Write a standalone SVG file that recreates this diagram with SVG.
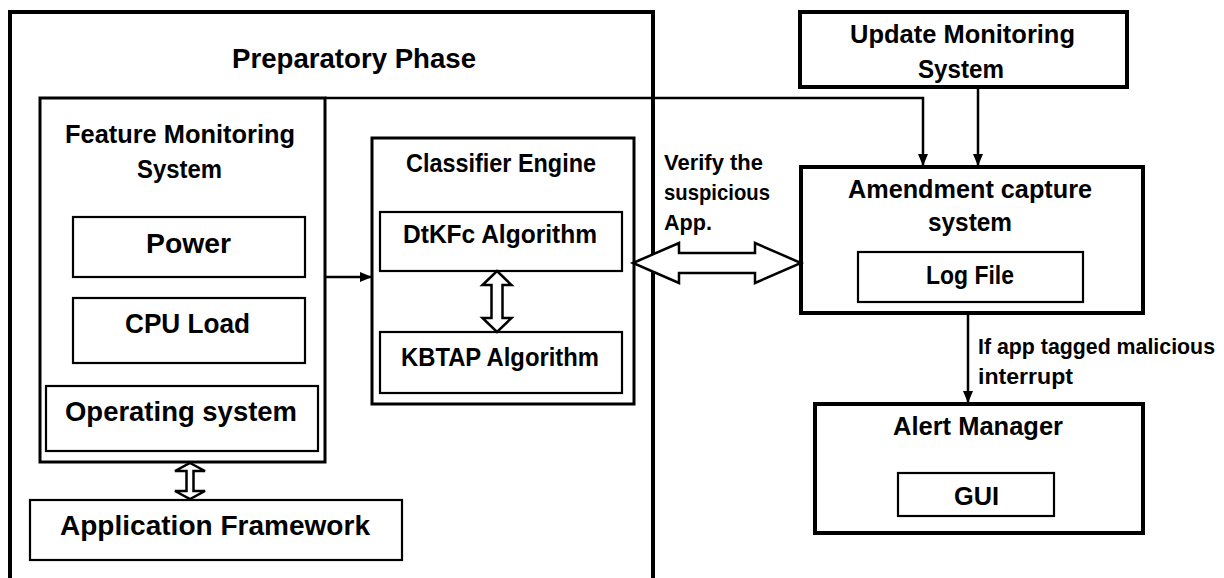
<svg xmlns="http://www.w3.org/2000/svg" width="1224" height="578" viewBox="0 0 1224 578">
<style>
  text { font-family: "Liberation Sans", Arial, sans-serif; font-weight: bold; fill: #000; }
  .b4 { fill: #fff; stroke: #000; stroke-width: 4; }
  .b3 { fill: #fff; stroke: #000; stroke-width: 3; }
  .b2 { fill: #fff; stroke: #000; stroke-width: 2.2; }
  .ln { fill: none; stroke: #000; stroke-width: 2.5; }
  .dbl { fill: #fff; stroke: #000; stroke-width: 2.5; stroke-linejoin: miter; }
  .t32 { font-size: 28px; }
  .t28 { font-size: 25px; }
  .t24 { font-size: 21.5px; }
</style>
<defs>
  <marker id="ah" markerUnits="userSpaceOnUse" markerWidth="12" markerHeight="12" viewBox="0 0 12 12" refX="11" refY="6" orient="auto">
    <path d="M0,1 L12,6 L0,11 Z" fill="#000"/>
  </marker>
</defs>
<rect width="1224" height="578" fill="#fff"/>

<g id="preparatory-phase">
  <path d="M10,580 L10,12 L653,12 L653,580" fill="none" stroke="#000" stroke-width="4"/>
  <text x="232" y="68" class="t32" textLength="244" lengthAdjust="spacingAndGlyphs">Preparatory Phase</text>
</g>

<g id="feature-monitoring">
  <rect x="40" y="98" width="285" height="364" class="b3"/>
  <text x="65" y="143" class="t28" textLength="230" lengthAdjust="spacingAndGlyphs">Feature Monitoring</text>
  <text x="137" y="178" class="t28" textLength="85" lengthAdjust="spacingAndGlyphs">System</text>
</g>
<g id="power">
  <rect x="73" y="217" width="232" height="60" class="b2"/>
  <text x="146" y="253" class="t32" textLength="85" lengthAdjust="spacingAndGlyphs">Power</text>
</g>
<g id="cpu-load">
  <rect x="73" y="298" width="232" height="65" class="b2"/>
  <text x="125" y="333" class="t32" textLength="125" lengthAdjust="spacingAndGlyphs">CPU Load</text>
</g>
<g id="operating-system">
  <rect x="46" y="386" width="272" height="65" class="b2"/>
  <text x="65" y="421" class="t32" textLength="232" lengthAdjust="spacingAndGlyphs">Operating system</text>
</g>
<g id="application-framework">
  <rect x="30" y="500" width="372" height="60" class="b2"/>
  <text x="60" y="535" class="t32" textLength="310" lengthAdjust="spacingAndGlyphs">Application Framework</text>
</g>

<g id="classifier-engine">
  <rect x="372" y="138" width="262" height="266" class="b3"/>
  <text x="406" y="172" class="t28" textLength="190" lengthAdjust="spacingAndGlyphs">Classifier Engine</text>
</g>
<g id="dtkfc">
  <rect x="380" y="212" width="242" height="59" class="b2"/>
  <text x="403" y="243" class="t28" textLength="194" lengthAdjust="spacingAndGlyphs">DtKFc Algorithm</text>
</g>
<g id="kbtap">
  <rect x="380" y="332" width="242" height="61" class="b2"/>
  <text x="401" y="366" class="t28" textLength="198" lengthAdjust="spacingAndGlyphs">KBTAP Algorithm</text>
</g>

<g id="update-monitoring">
  <rect x="800" y="12" width="327" height="75" class="b4"/>
  <text x="850" y="43" class="t28" textLength="225" lengthAdjust="spacingAndGlyphs">Update Monitoring</text>
  <text x="918" y="78" class="t28" textLength="86" lengthAdjust="spacingAndGlyphs">System</text>
</g>
<g id="amendment-capture">
  <rect x="801" y="167" width="342" height="146" class="b4"/>
  <text x="848" y="198" class="t28" textLength="244" lengthAdjust="spacingAndGlyphs">Amendment capture</text>
  <text x="928" y="231" class="t28" textLength="84" lengthAdjust="spacingAndGlyphs">system</text>
</g>
<g id="log-file">
  <rect x="858" y="252" width="225" height="50" class="b2"/>
  <text x="926" y="284" class="t28" textLength="88" lengthAdjust="spacingAndGlyphs">Log File</text>
</g>
<g id="alert-manager">
  <rect x="815" y="404" width="328" height="129" class="b4"/>
  <text x="893" y="435" class="t28" textLength="170" lengthAdjust="spacingAndGlyphs">Alert Manager</text>
</g>
<g id="gui">
  <rect x="898" y="473" width="156" height="43" class="b2"/>
  <text x="954" y="505" class="t28" textLength="45" lengthAdjust="spacingAndGlyphs">GUI</text>
</g>

<g id="connectors">
  <line x1="325" y1="277" x2="371" y2="277" class="ln" marker-end="url(#ah)"/>
  <path d="M325,98 L923,98 L923,165" class="ln" marker-end="url(#ah)"/>
  <line x1="978" y1="87" x2="978" y2="165" class="ln" marker-end="url(#ah)"/>
  <line x1="968" y1="313" x2="968" y2="402" class="ln" marker-end="url(#ah)"/>
  <!-- DtKFc <-> KBTAP -->
  <path d="M497,271 L511.5,285 L502.5,285 L502.5,318 L511.5,318 L497,332 L482.5,318 L491.5,318 L491.5,285 L482.5,285 Z" class="dbl"/>
  <!-- Feature <-> Application Framework -->
  <path d="M190,463 L205,471 L193.5,471 L193.5,491 L205,491 L190,499 L175,491 L186.5,491 L186.5,471 L175,471 Z" class="dbl"/>
  <!-- Classifier <-> Amendment -->
  <path d="M633,263 L679,243 L679,253 L755,253 L755,243 L801,263 L755,283 L755,273 L679,273 L679,283 Z" class="dbl" stroke-width="3"/>
  <text x="664" y="170" class="t24" textLength="99" lengthAdjust="spacingAndGlyphs">Verify the</text>
  <text x="664" y="200" class="t24" textLength="106" lengthAdjust="spacingAndGlyphs">suspicious</text>
  <text x="664" y="230" class="t24" textLength="48" lengthAdjust="spacingAndGlyphs">App.</text>
  <text x="978" y="354" class="t24" textLength="237" lengthAdjust="spacingAndGlyphs">If app tagged malicious</text>
  <text x="978" y="384" class="t24" textLength="95" lengthAdjust="spacingAndGlyphs">interrupt</text>
</g>
</svg>
